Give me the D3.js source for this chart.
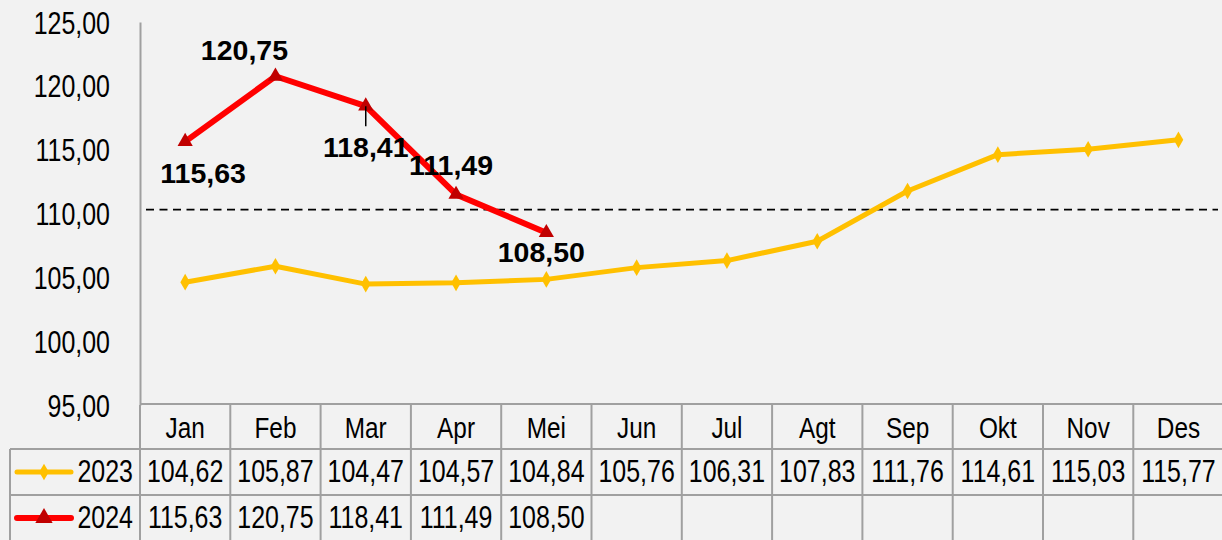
<!DOCTYPE html>
<html><head><meta charset="utf-8">
<script src="https://cdn.jsdelivr.net/npm/d3@7"></script>
<style>
html,body{margin:0;padding:0;background:#f2f2f2;}
svg{display:block;}
</style></head><body>
<svg id="c" width="1222" height="540"></svg>
<script>
const months = ["Jan","Feb","Mar","Apr","Mei","Jun","Jul","Agt","Sep","Okt","Nov","Des"];
const values2023 = [104.62,105.87,104.47,104.57,104.84,105.76,106.31,107.83,111.76,114.61,115.03,115.77];
const values2024 = [115.63,120.75,118.41,111.49,108.50];
const yTicks = [95,100,105,110,115,120,125];
const refValue = [110.3];
const seriesNames = ["2023","2024"];

const W=1222,H=540;
const svg=d3.select("#c");
svg.append("rect").attr("width",W).attr("height",H).attr("fill","#f2f2f2");
const font="'Liberation Sans',Arial,sans-serif";
const SX=0.78, FS=32;
const x=d3.scaleBand().domain(months).range([140,1223.6]);
const y=d3.scaleLinear().domain([95,125]).range([405,22]);
const fmt=v=>v.toFixed(2).replace(".",",");
const cx=m=>x(m)+x.bandwidth()/2;
const gridCol="#a0a0a0";

function ntext(px,py,txt,anchor,fs,sx){
  return svg.append("text").attr("transform",`translate(${px},${py}) scale(${sx||SX},1)`)
   .attr("text-anchor",anchor||"middle").attr("font-family",font).attr("font-size",fs||FS).attr("fill","#000").text(txt);
}

// y axis
const ya=svg.append("g").attr("transform","translate(140,0)")
 .call(d3.axisLeft(y).tickValues(yTicks).tickSize(0).tickPadding(30).tickFormat(fmt));
ya.select(".domain").attr("stroke",gridCol).attr("stroke-width",2);
ya.selectAll(".tick text").each(function(){
  const t=d3.select(this);
  const xx=+t.attr("x");
  t.attr("x",null).attr("dy",null).attr("font-family",font).attr("font-size",FS).attr("fill","#000")
   .attr("text-anchor","end").attr("transform",`translate(${xx},11) scale(${SX},1)`);
});
svg.append("line").attr("x1",140).attr("x2",140).attr("y1",y(95)).attr("y2",H).attr("stroke",gridCol).attr("stroke-width",2);

// dashed reference
svg.selectAll(".ref").data(refValue).enter().append("line")
 .attr("x1",146).attr("x2",1218).attr("y1",d=>y(d)).attr("y2",d=>y(d))
 .attr("stroke","#000").attr("stroke-width",1.6).attr("stroke-dasharray","8,5.5");

// table
const rowTop=[404,449,495,541];
const tbl=svg.append("g");
tbl.append("line").attr("x1",140).attr("x2",W).attr("y1",rowTop[0]).attr("y2",rowTop[0]);
[rowTop[1],rowTop[2]].forEach(yy=>tbl.append("line").attr("x1",10).attr("x2",W).attr("y1",yy).attr("y2",yy));
tbl.append("line").attr("x1",10).attr("x2",10).attr("y1",rowTop[1]).attr("y2",H);
months.forEach(m=>{ if(m!=="Jan") tbl.append("line").attr("x1",x(m)).attr("x2",x(m)).attr("y1",rowTop[0]).attr("y2",H);});
tbl.selectAll("line").attr("stroke",gridCol).attr("stroke-width",2);

months.forEach(m=>ntext(cx(m),438,m,"middle",29,0.84));
const rowBase=[482,528];
[values2023,values2024].forEach((arr,r)=>{
  arr.forEach((v,i)=>ntext(cx(months[i]),rowBase[r],fmt(v)));
});

// series
const colors=["#ffc000","#ff0000"];
const mcolors=["#ffc000","#c00000"];
const widths=[5,6];
const line=d3.line().x(d=>cx(d.m)).y(d=>y(d.v));
[values2023,values2024].forEach((arr,r)=>{
 const pts=arr.map((v,i)=>({m:months[i],v}));
 svg.append("path").datum(pts).attr("d",line).attr("fill","none").attr("stroke",colors[r]).attr("stroke-width",widths[r]).attr("stroke-linejoin","round");
 const sym=d3.symbol().type(r===0?d3.symbolDiamond:d3.symbolTriangle).size(r===0?80:100);
 svg.selectAll(".mk"+r).data(pts).enter().append("path").attr("d",sym)
  .attr("transform",d=>`translate(${cx(d.m)},${y(d.v)})`).attr("fill",mcolors[r]);
});

// leader line for Mar
svg.append("line").attr("x1",cx("Mar")).attr("x2",cx("Mar")).attr("y1",y(values2024[2])).attr("y2",y(values2024[2])+20).attr("stroke","#000").attr("stroke-width",1.5);

// data labels for 2024
const lblOff=[[18,31],[-31,-26],[0,41],[-5,-29],[-5,19]];
svg.selectAll(".dl").data(values2024).enter().append("text")
 .attr("x",(d,i)=>cx(months[i])+lblOff[i][0]).attr("y",(d,i)=>y(d)+lblOff[i][1]+10)
 .attr("text-anchor","middle").attr("font-family",font).attr("font-weight","bold")
 .attr("font-size",28.5).text(d=>fmt(d));

// legend
const legY=[(rowTop[1]+rowTop[2])/2,(rowTop[2]+rowTop[3])/2];
seriesNames.forEach((s,r)=>{
 svg.append("line").attr("x1",17).attr("x2",71).attr("y1",legY[r]).attr("y2",legY[r]).attr("stroke",colors[r]).attr("stroke-width",widths[r]).attr("stroke-linecap","round");
 svg.append("path").attr("d",d3.symbol().type(r===0?d3.symbolDiamond:d3.symbolTriangle).size(r===0?80:130)())
  .attr("transform",`translate(44,${legY[r]})`).attr("fill",mcolors[r]);
 ntext(133,rowBase[r],s,"end");
});
</script></body></html>
